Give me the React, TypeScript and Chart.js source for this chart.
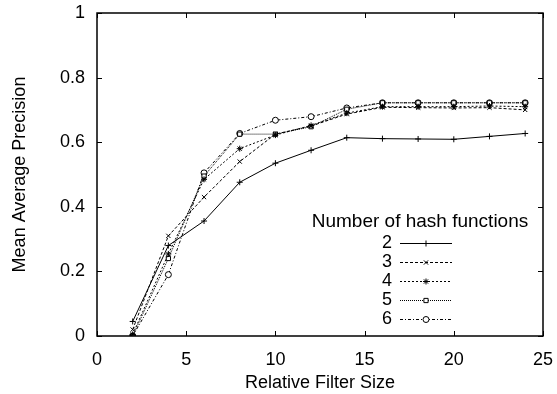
import React, { useEffect, useRef } from "react";
import { Chart, registerables } from "chart.js";

Chart.register(...registerables);

const xs = [2, 4, 6, 8, 10, 12, 14, 16, 18, 20, 22, 24];
const h2 = [0.045, 0.28, 0.356, 0.476, 0.535, 0.575, 0.614, 0.611, 0.61, 0.609, 0.618, 0.627];
const h3 = [0.02, 0.31, 0.43, 0.54, 0.625, 0.65, 0.687, 0.708, 0.707, 0.706, 0.707, 0.7];
const h4 = [0.005, 0.254, 0.485, 0.58, 0.622, 0.652, 0.69, 0.71, 0.71, 0.71, 0.712, 0.71];
const h5 = [0, 0.24, 0.495, 0.625, 0.625, 0.648, 0.702, 0.722, 0.722, 0.722, 0.722, 0.722];
const h6 = [0, 0.19, 0.505, 0.627, 0.668, 0.679, 0.706, 0.722, 0.722, 0.722, 0.722, 0.722];

const seriesLabels = ["2", "3", "4", "5", "6"];
const seriesValues = [h2, h3, h4, h5, h6];
const pointStyles = ["cross", "crossRot", "star", "rect", "circle"];
const dashes: number[][] = [[], [3, 2], [2, 2], [1, 1], [3, 2, 1, 2]];
const xTicks = [0, 5, 10, 15, 20, 25];
const yTicks = [0, 0.2, 0.4, 0.6, 0.8, 1];

const FONT = "'Liberation Sans', Arial, Helvetica, sans-serif";

const framePlugin = {
  id: "frame",
  afterDatasetsDraw(chart: any) {
    const { ctx, chartArea: a, scales } = chart;
    ctx.save();
    ctx.strokeStyle = "#000";
    ctx.lineWidth = 1.5;
    ctx.setLineDash([]);
    ctx.strokeRect(a.left, a.top, a.right - a.left, a.bottom - a.top);
    ctx.lineWidth = 1;
    const tl = 5;
    for (const v of xTicks) {
      const px = Math.round(scales.x.getPixelForValue(v)) + 0.5;
      ctx.beginPath();
      ctx.moveTo(px, a.bottom);
      ctx.lineTo(px, a.bottom - tl);
      ctx.moveTo(px, a.top);
      ctx.lineTo(px, a.top + tl);
      ctx.stroke();
    }
    for (const v of yTicks) {
      const py = Math.round(scales.y.getPixelForValue(v)) + 0.5;
      ctx.beginPath();
      ctx.moveTo(a.left, py);
      ctx.lineTo(a.left + tl, py);
      ctx.moveTo(a.right, py);
      ctx.lineTo(a.right - tl, py);
      ctx.stroke();
    }
    // legend
    ctx.fillStyle = "#000";
    ctx.font = `19px ${FONT}`;
    ctx.textAlign = "center";
    ctx.textBaseline = "middle";
    ctx.fillText("Number of hash functions", 420, 222);
    ctx.font = `18px ${FONT}`;
    const rowY0 = 242.5;
    const rowStep = 19.2;
    chart.data.datasets.forEach((ds: any, i: number) => {
      const y = Math.round(rowY0 + i * rowStep) + 0.5;
      ctx.fillStyle = "#000";
      ctx.textAlign = "right";
      ctx.fillText(ds.label, 392, y);
      ctx.save();
      ctx.strokeStyle = "#000";
      ctx.lineWidth = 1;
      ctx.setLineDash(ds.borderDash || []);
      ctx.beginPath();
      ctx.moveTo(400, y);
      ctx.lineTo(452, y);
      ctx.stroke();
      ctx.restore();
      const meta = chart.getDatasetMeta(i);
      const el = meta.data[0];
      if (el) {
        const ox = el.x;
        const oy = el.y;
        el.x = 426;
        el.y = y;
        ctx.save();
        el.draw(ctx);
        ctx.restore();
        el.x = ox;
        el.y = oy;
      }
    });
    ctx.restore();
  },
};

export default function App() {
  const ref = useRef<HTMLCanvasElement>(null);
  useEffect(() => {
    document.body.style.margin = "0";
    const datasets = seriesLabels.map((lab, i) => ({
      label: lab,
      data: xs.map((x, j) => ({ x, y: seriesValues[i][j] })),
      borderColor: "#000",
      borderWidth: 1,
      borderDash: dashes[i],
      pointStyle: pointStyles[i],
      pointRadius: 3,
      pointBorderWidth: 1,
      pointBorderColor: "#000",
      pointBackgroundColor: "#fff",
      showLine: true,
      fill: false,
      tension: 0,
    }));
    const chart = new Chart(ref.current!, {
      type: "scatter",
      data: { datasets },
      plugins: [framePlugin],
      options: {
        animation: false,
        responsive: false,
        devicePixelRatio: 1,
        layout: { padding: { top: 13, right: 14, left: 9, bottom: 0 } },
        plugins: { legend: { display: false }, tooltip: { enabled: false } },
        scales: {
          x: {
            type: "linear",
            min: 0,
            max: 25,
            afterFit: (s: any) => {
              s.height = 58;
              s.paddingLeft = 0;
              s.paddingRight = 0;
            },
            afterBuildTicks: (s: any) => {
              s.ticks = xTicks.map((v) => ({ value: v }));
            },
            grid: { display: false, drawTicks: false },
            border: { display: false },
            ticks: { color: "#000", font: { size: 18, family: FONT }, padding: 13, maxRotation: 0 },
            title: {
              display: true,
              text: "Relative Filter Size",
              color: "#000",
              font: { size: 18, family: FONT },
              padding: { top: 6, bottom: 0 },
            },
          },
          y: {
            type: "linear",
            min: 0,
            max: 1,
            afterFit: (s: any) => {
              s.width = 88;
              s.paddingTop = 0;
              s.paddingBottom = 0;
            },
            afterBuildTicks: (s: any) => {
              s.ticks = yTicks.map((v) => ({ value: v }));
            },
            grid: { display: false, drawTicks: false },
            border: { display: false },
            ticks: {
              color: "#000",
              font: { size: 18, family: FONT },
              padding: 12,
              callback: (v: any) => String(Math.round(v * 10) / 10),
            },
            title: {
              display: true,
              text: "Mean Average Precision",
              color: "#000",
              font: { size: 18, family: FONT },
              padding: { top: 0, bottom: 0 },
            },
          },
        },
      } as any,
    });
    return () => chart.destroy();
  }, []);
  return (
    <div style={{ position: "absolute", left: 0, top: 0, width: 557, height: 394, background: "#fff" }}>
      <canvas ref={ref} width={557} height={394} style={{ width: 557, height: 394 }} />
    </div>
  );
}
